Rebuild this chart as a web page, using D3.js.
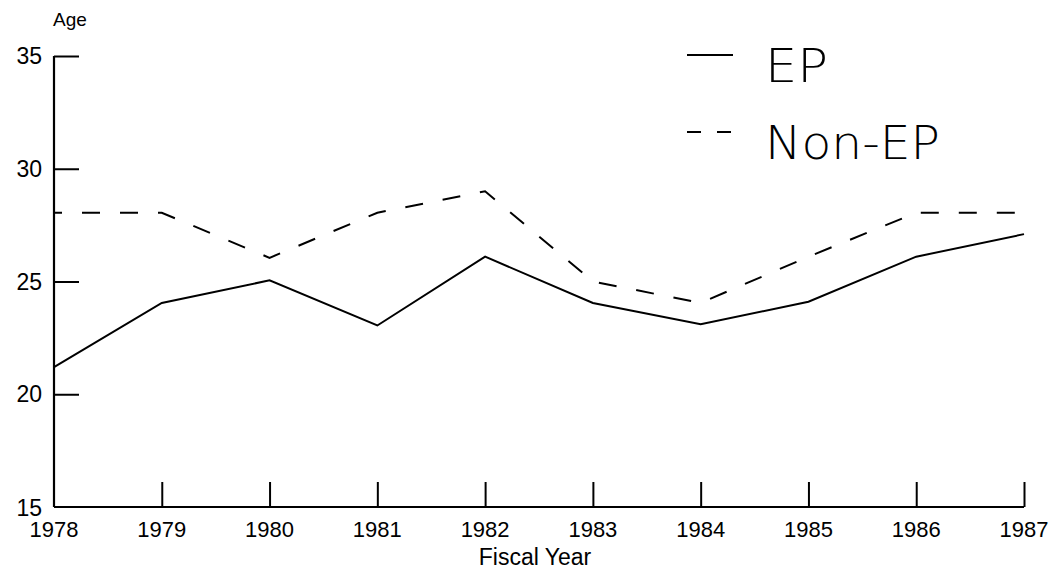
<!DOCTYPE html>
<html>
<head>
<meta charset="utf-8">
<script src="https://cdn.jsdelivr.net/npm/d3@7"></script>
<style>
  html, body { margin: 0; padding: 0; background: #fff; }
  svg { display: block; }
  text { font-family: "Liberation Sans", Arial, sans-serif; fill: #000; }
</style>
</head>
<body>
<svg id="chart" width="1055" height="570"></svg>
<script>
const years = [1978, 1979, 1980, 1981, 1982, 1983, 1984, 1985, 1986, 1987];
const epValues = [21.2, 24.05, 25.05, 23.05, 26.1, 24.05, 23.1, 24.1, 26.1, 27.1];
const nonEpValues = [28.05, 28.05, 26.05, 28.05, 29.0, 25.0, 24.05, 26.1, 28.05, 28.05];
const yTicks = [15, 20, 25, 30, 35];
const seriesNames = ["EP", "Non-EP"];
const yAxisTitle = "Age";
const xAxisTitle = "Fiscal Year";

(function () {
const svg = d3.select("#chart");
const mLeft = 54, mRight = 1024, mTop = 56, mBottom = 507;

const x = d3.scaleLinear().domain([1978, 1987]).range([mLeft, mRight]);
const y = d3.scaleLinear().domain([15, 35]).range([mBottom, mTop]);

// axes lines
const g = svg.append("g");
g.append("line").attr("x1", mLeft).attr("x2", mLeft).attr("y1", y(35)).attr("y2", mBottom)
  .attr("stroke", "#000").attr("stroke-width", 2.2);
g.append("line").attr("x1", mLeft).attr("x2", x(1987)).attr("y1", mBottom).attr("y2", mBottom)
  .attr("stroke", "#000").attr("stroke-width", 2.2);

// y ticks (drawn inward, to the right)
const yAxis = d3.axisRight(y).tickValues(yTicks).tickSize(25).tickFormat("");
const ya = g.append("g").attr("transform", `translate(${mLeft},0)`).call(yAxis);
ya.select(".domain").remove();
ya.selectAll(".tick line").attr("stroke", "#000").attr("stroke-width", 2);
ya.selectAll(".tick").filter(d => d === 15).remove();

// y labels
g.selectAll(".ylab").data(yTicks).join("text")
  .attr("class", "ylab")
  .attr("x", 42).attr("y", d => y(d) + (d === 15 ? 1 : 0))
  .attr("text-anchor", "end").attr("dominant-baseline", "central")
  .style("font-size", "23px")
  .text(d => d);

// x ticks (drawn upward)
const xAxis = d3.axisTop(x).tickValues(years.slice(1)).tickSize(25).tickFormat("");
const xa = g.append("g").attr("transform", `translate(0,${mBottom})`).call(xAxis);
xa.select(".domain").remove();
xa.selectAll(".tick line").attr("stroke", "#000").attr("stroke-width", 2);

// x labels
g.selectAll(".xlab").data(years).join("text")
  .attr("class", "xlab")
  .attr("x", d => x(d)).attr("y", 537)
  .attr("text-anchor", "middle")
  .style("font-size", "22px")
  .text(d => d);

// titles
svg.append("text").attr("x", 53).attr("y", 26).style("font-size", "19px").text(yAxisTitle);
svg.append("text").attr("x", 535).attr("y", 565).attr("text-anchor", "middle")
  .style("font-size", "23px").text(xAxisTitle);

// lines
const line = d3.line().x((d, i) => x(years[i])).y(d => y(d));
svg.append("path").datum(epValues).attr("d", line)
  .attr("fill", "none").attr("stroke", "#000").attr("stroke-width", 2);
svg.append("path").datum(nonEpValues).attr("d", line)
  .attr("fill", "none").attr("stroke", "#000").attr("stroke-width", 2)
  .attr("stroke-dasharray", "18,20").attr("stroke-dashoffset", 10);

// legend
const leg = svg.append("g");
leg.append("line").attr("x1", 687).attr("x2", 733).attr("y1", 55).attr("y2", 55)
  .attr("stroke", "#000").attr("stroke-width", 2);
leg.append("line").attr("x1", 687).attr("x2", 733).attr("y1", 132).attr("y2", 132)
  .attr("stroke", "#000").attr("stroke-width", 2).attr("stroke-dasharray", "14,16");
leg.selectAll(".legt").data(seriesNames).join("text")
  .attr("class", "legt")
  .attr("x", 765).attr("y", (d, i) => i === 0 ? 82 : 159)
  .style("font-family", "'DejaVu Sans', sans-serif")
  .style("font-weight", 200)
  .style("font-size", "47px")
  .attr("textLength", (d, i) => i === 0 ? 63 : 175)
  .attr("lengthAdjust", "spacingAndGlyphs")
  .text(d => d);
})();
</script>
</body>
</html>
